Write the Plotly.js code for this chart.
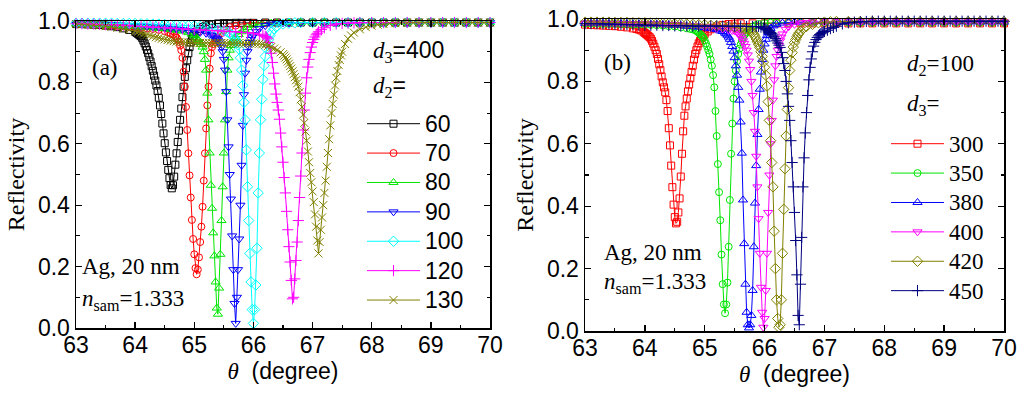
<!DOCTYPE html>
<html><head><meta charset="utf-8">
<script src="https://cdn.plot.ly/plotly-3.0.1.min.js"></script>
<style>html,body{margin:0;padding:0;background:#fff}</style>
</head><body><div id="chart" style="width:1024px;height:394px"></div>
<script>
// ---------- Panel (a): d3 = 400, varying d2 ----------  [theta (deg), reflectivity]
const A60 = [[63.0,.99],[63.1,.99],[63.2,.989],[63.3,.988],[63.4,.987],[63.5,.985],[63.6,.983],[63.7,.98],[63.8,.976],[63.9,.971],[64.0,.965],[64.02,.962],[64.04,.959],[64.06,.956],[64.08,.953],[64.1,.95],[64.12,.944],[64.14,.936],[64.16,.927],[64.18,.917],[64.2,.906],[64.22,.895],[64.24,.882],[64.26,.868],[64.28,.853],[64.3,.838],[64.32,.822],[64.34,.806],[64.36,.79],[64.38,.772],[64.4,.75],[64.42,.725],[64.44,.697],[64.46,.666],[64.48,.634],[64.5,.602],[64.52,.572],[64.54,.544],[64.56,.515],[64.58,.488],[64.6,.466],[64.62,.455],[64.64,.465],[64.66,.493],[64.68,.532],[64.7,.569],[64.72,.606],[64.74,.643],[64.76,.678],[64.78,.715],[64.8,.752],[64.82,.786],[64.84,.818],[64.86,.846],[64.88,.872],[64.9,.895],[64.92,.915],[64.94,.93],[64.96,.942],[64.98,.951],[65.0,.958],[65.05,.966],[65.1,.974],[65.15,.98],[65.2,.985],[65.25,.988],[65.3,.99],[65.4,.992],[65.5,.993],[65.6,.993],[65.7,.994],[65.8,.994],[65.9,.994],[66.0,.994],[66.2,.995],[66.4,.995],[66.6,.995],[66.8,.995],[67.0,.995],[67.2,.995],[67.4,.995],[67.6,.995],[67.8,.995],[68.0,.995],[68.2,.995],[68.4,.995],[68.6,.995],[68.8,.995],[69.0,.995],[69.2,.995],[69.4,.995],[69.6,.995],[69.8,.995],[70.0,.995]];
const A70 = [[63.0,.99],[63.1,.99],[63.2,.989],[63.3,.989],[63.4,.988],[63.5,.987],[63.6,.986],[63.7,.984],[63.8,.983],[63.9,.981],[64.0,.98],[64.1,.978],[64.2,.976],[64.3,.974],[64.4,.971],[64.5,.967],[64.56,.963],[64.6,.96],[64.64,.956],[64.68,.95],[64.7,.946],[64.72,.94],[64.74,.932],[64.76,.92],[64.78,.905],[64.8,.88],[64.82,.835],[64.84,.786],[64.86,.72],[64.88,.645],[64.9,.569],[64.92,.497],[64.94,.425],[64.96,.352],[64.98,.29],[65.0,.24],[65.02,.195],[65.04,.175],[65.06,.19],[65.08,.23],[65.1,.28],[65.12,.33],[65.14,.395],[65.16,.48],[65.18,.569],[65.2,.65],[65.22,.725],[65.24,.786],[65.26,.845],[65.28,.895],[65.3,.915],[65.32,.925],[65.34,.932],[65.36,.938],[65.38,.944],[65.4,.95],[65.45,.96],[65.5,.97],[65.6,.98],[65.7,.985],[65.8,.99],[65.9,.992],[66.0,.993],[66.2,.994],[66.4,.994],[66.6,.995],[66.8,.995],[67.0,.995],[67.2,.995],[67.4,.995],[67.6,.995],[67.8,.995],[68.0,.995],[68.2,.995],[68.4,.995],[68.6,.995],[68.8,.995],[69.0,.995],[69.2,.995],[69.4,.995],[69.6,.995],[69.8,.995],[70.0,.995]];
const A80 = [[63.0,.99],[63.1,.99],[63.2,.99],[63.3,.989],[63.4,.988],[63.5,.987],[63.6,.986],[63.7,.985],[63.8,.984],[63.9,.983],[64.0,.982],[64.1,.98],[64.2,.979],[64.3,.978],[64.4,.976],[64.5,.975],[64.6,.972],[64.7,.97],[64.8,.967],[64.9,.962],[64.96,.957],[65.0,.952],[65.04,.945],[65.06,.94],[65.08,.935],[65.1,.93],[65.12,.924],[65.14,.915],[65.16,.9],[65.18,.875],[65.2,.84],[65.22,.765],[65.24,.678],[65.26,.57],[65.28,.465],[65.3,.39],[65.32,.31],[65.34,.235],[65.36,.15],[65.38,.065],[65.4,.045],[65.42,.13],[65.44,.24],[65.46,.35],[65.48,.46],[65.5,.57],[65.52,.678],[65.54,.77],[65.56,.84],[65.58,.88],[65.6,.905],[65.62,.92],[65.64,.93],[65.66,.936],[65.68,.942],[65.7,.947],[65.75,.956],[65.8,.965],[65.85,.973],[65.9,.979],[66.0,.986],[66.1,.99],[66.2,.992],[66.3,.993],[66.4,.994],[66.6,.995],[66.8,.995],[67.0,.995],[67.2,.995],[67.4,.995],[67.6,.995],[67.8,.995],[68.0,.995],[68.2,.995],[68.4,.995],[68.6,.995],[68.8,.995],[69.0,.995],[69.2,.995],[69.4,.995],[69.6,.995],[69.8,.995],[70.0,.995]];
const A90 = [[63.0,.99],[63.1,.99],[63.2,.99],[63.3,.99],[63.4,.989],[63.5,.988],[63.6,.988],[63.7,.987],[63.8,.986],[63.9,.985],[64.0,.985],[64.1,.984],[64.2,.982],[64.3,.981],[64.4,.98],[64.5,.978],[64.6,.976],[64.7,.974],[64.8,.972],[64.9,.969],[65.0,.966],[65.1,.963],[65.2,.96],[65.26,.956],[65.3,.953],[65.34,.948],[65.36,.945],[65.38,.942],[65.4,.938],[65.42,.932],[65.44,.925],[65.46,.915],[65.48,.9],[65.5,.875],[65.52,.84],[65.54,.77],[65.56,.678],[65.58,.59],[65.6,.5],[65.62,.42],[65.64,.3],[65.66,.19],[65.68,.08],[65.7,.015],[65.72,.1],[65.74,.19],[65.76,.29],[65.78,.4],[65.8,.53],[65.82,.66],[65.84,.76],[65.86,.83],[65.88,.872],[65.9,.9],[65.92,.917],[65.94,.93],[65.96,.94],[65.98,.948],[66.0,.955],[66.05,.965],[66.1,.975],[66.2,.985],[66.3,.99],[66.4,.993],[66.5,.994],[66.6,.994],[66.8,.995],[67.0,.995],[67.2,.995],[67.4,.995],[67.6,.995],[67.8,.995],[68.0,.995],[68.2,.995],[68.4,.995],[68.6,.995],[68.8,.995],[69.0,.995],[69.2,.995],[69.4,.995],[69.6,.995],[69.8,.995],[70.0,.995]];
const A100 = [[63.0,.993],[63.1,.993],[63.2,.993],[63.3,.993],[63.4,.993],[63.5,.993],[63.6,.993],[63.7,.992],[63.8,.992],[63.9,.992],[64.0,.992],[64.1,.991],[64.2,.991],[64.3,.99],[64.4,.99],[64.5,.989],[64.6,.988],[64.7,.987],[64.8,.986],[64.9,.985],[65.0,.984],[65.1,.982],[65.2,.979],[65.3,.976],[65.4,.972],[65.5,.968],[65.56,.964],[65.6,.96],[65.64,.954],[65.68,.944],[65.7,.938],[65.72,.93],[65.74,.922],[65.76,.908],[65.78,.88],[65.8,.84],[65.82,.79],[65.84,.735],[65.86,.678],[65.88,.58],[65.9,.46],[65.92,.35],[65.94,.243],[65.96,.15],[65.98,.06],[66.0,.015],[66.02,.06],[66.04,.14],[66.06,.26],[66.08,.44],[66.1,.57],[66.12,.678],[66.14,.745],[66.16,.81],[66.18,.855],[66.2,.885],[66.22,.91],[66.24,.925],[66.26,.94],[66.28,.953],[66.3,.963],[66.35,.975],[66.4,.983],[66.5,.99],[66.6,.993],[66.7,.994],[66.8,.995],[67.0,.995],[67.2,.995],[67.4,.995],[67.6,.995],[67.8,.995],[68.0,.995],[68.2,.995],[68.4,.995],[68.6,.995],[68.8,.995],[69.0,.995],[69.2,.995],[69.4,.995],[69.6,.995],[69.8,.995],[70.0,.995]];
const A120 = [[63.0,.991],[63.1,.991],[63.2,.99],[63.3,.99],[63.4,.989],[63.5,.988],[63.6,.988],[63.7,.987],[63.8,.986],[63.9,.985],[64.0,.983],[64.1,.982],[64.2,.981],[64.3,.98],[64.4,.979],[64.5,.978],[64.6,.977],[64.7,.976],[64.8,.974],[64.9,.973],[65.0,.972],[65.1,.971],[65.2,.97],[65.3,.969],[65.4,.968],[65.5,.967],[65.6,.966],[65.7,.965],[65.8,.963],[65.9,.962],[66.0,.96],[66.1,.957],[66.16,.953],[66.2,.95],[66.22,.947],[66.24,.942],[66.26,.93],[66.28,.915],[66.3,.895],[66.32,.865],[66.34,.83],[66.36,.795],[66.38,.762],[66.4,.735],[66.42,.71],[66.44,.68],[66.46,.635],[66.48,.59],[66.5,.54],[66.52,.49],[66.54,.44],[66.56,.38],[66.58,.32],[66.6,.265],[66.62,.215],[66.64,.155],[66.66,.095],[66.68,.1],[66.7,.16],[66.72,.22],[66.74,.28],[66.76,.35],[66.78,.425],[66.8,.495],[66.82,.57],[66.84,.645],[66.86,.71],[66.88,.765],[66.9,.815],[66.92,.85],[66.94,.875],[66.96,.897],[66.98,.915],[67.0,.93],[67.02,.94],[67.04,.948],[67.06,.955],[67.08,.96],[67.1,.965],[67.15,.972],[67.2,.978],[67.3,.986],[67.4,.99],[67.5,.992],[67.6,.993],[67.7,.994],[67.8,.995],[68.0,.995],[68.2,.995],[68.4,.995],[68.6,.995],[68.8,.995],[69.0,.995],[69.2,.995],[69.4,.995],[69.6,.995],[69.8,.995],[70.0,.995]];
const A130 = [[63.0,.99],[63.1,.989],[63.2,.988],[63.3,.987],[63.4,.985],[63.5,.983],[63.6,.981],[63.7,.978],[63.8,.975],[63.9,.971],[64.0,.967],[64.05,.965],[64.1,.962],[64.15,.959],[64.2,.956],[64.25,.953],[64.3,.95],[64.35,.947],[64.4,.945],[64.45,.942],[64.5,.94],[64.55,.938],[64.6,.936],[64.65,.934],[64.7,.933],[64.75,.932],[64.8,.931],[64.85,.93],[64.9,.93],[64.95,.929],[65.0,.929],[65.05,.929],[65.1,.929],[65.15,.928],[65.2,.928],[65.25,.928],[65.3,.928],[65.35,.928],[65.4,.928],[65.45,.928],[65.5,.928],[65.55,.927],[65.6,.927],[65.65,.927],[65.7,.927],[65.75,.927],[65.8,.927],[65.85,.927],[65.9,.927],[65.95,.927],[66.0,.927],[66.05,.926],[66.1,.926],[66.15,.924],[66.2,.922],[66.25,.919],[66.3,.915],[66.35,.91],[66.4,.905],[66.46,.898],[66.5,.892],[66.52,.887],[66.54,.881],[66.56,.875],[66.58,.868],[66.6,.861],[66.62,.853],[66.64,.845],[66.66,.836],[66.68,.827],[66.7,.817],[66.72,.807],[66.74,.797],[66.76,.786],[66.78,.768],[66.8,.745],[66.82,.72],[66.84,.695],[66.86,.668],[66.88,.64],[66.9,.61],[66.92,.575],[66.94,.54],[66.96,.505],[66.98,.475],[67.0,.445],[67.02,.41],[67.04,.37],[67.06,.33],[67.08,.285],[67.1,.243],[67.12,.28],[67.14,.32],[67.16,.36],[67.18,.4],[67.2,.44],[67.22,.48],[67.24,.525],[67.26,.57],[67.28,.615],[67.3,.66],[67.32,.7],[67.34,.73],[67.36,.76],[67.38,.79],[67.4,.815],[67.42,.837],[67.44,.857],[67.46,.873],[67.48,.888],[67.5,.9],[67.55,.925],[67.6,.942],[67.65,.953],[67.7,.962],[67.8,.973],[67.9,.98],[68.0,.985],[68.1,.988],[68.2,.99],[68.3,.992],[68.4,.993],[68.5,.994],[68.6,.994],[68.7,.995],[68.8,.995],[68.9,.995],[69.0,.995],[69.1,.995],[69.2,.995],[69.3,.995],[69.4,.995],[69.5,.995],[69.6,.995],[69.7,.995],[69.8,.995],[69.9,.995],[70.0,.995]];

// ---------- Panel (b): d2 = 100, varying d3 ----------
const B300 = [[63.0,.982],[63.1,.981],[63.2,.98],[63.3,.979],[63.4,.978],[63.5,.977],[63.6,.975],[63.7,.973],[63.8,.97],[63.86,.968],[63.9,.966],[63.94,.963],[63.98,.958],[64.0,.955],[64.02,.952],[64.04,.949],[64.06,.945],[64.08,.942],[64.1,.937],[64.12,.93],[64.14,.921],[64.16,.911],[64.18,.9],[64.2,.888],[64.22,.872],[64.24,.855],[64.26,.836],[64.28,.816],[64.3,.797],[64.32,.781],[64.34,.765],[64.36,.74],[64.38,.705],[64.4,.65],[64.42,.595],[64.44,.53],[64.46,.461],[64.48,.405],[64.5,.365],[64.52,.345],[64.54,.35],[64.56,.38],[64.58,.425],[64.6,.495],[64.62,.568],[64.64,.64],[64.66,.69],[64.68,.72],[64.7,.745],[64.72,.768],[64.74,.79],[64.76,.81],[64.78,.83],[64.8,.85],[64.82,.87],[64.84,.888],[64.86,.9],[64.88,.912],[64.9,.922],[64.92,.93],[64.94,.938],[64.96,.943],[64.98,.948],[65.0,.952],[65.05,.96],[65.1,.967],[65.15,.972],[65.2,.976],[65.3,.981],[65.4,.984],[65.5,.985],[65.6,.986],[65.8,.986],[66.0,.986],[66.2,.986],[66.4,.986],[66.6,.986],[66.8,.986],[67.0,.986],[67.2,.986],[67.4,.986],[67.6,.986],[67.8,.986],[68.0,.986],[68.2,.986],[68.4,.986],[68.6,.986],[68.8,.986],[69.0,.986],[69.2,.986],[69.4,.986],[69.6,.986],[69.8,.986],[70.0,.986]];
const B350 = [[63.0,.985],[63.1,.985],[63.2,.985],[63.3,.984],[63.4,.984],[63.5,.984],[63.6,.983],[63.7,.983],[63.8,.982],[63.9,.982],[64.0,.982],[64.1,.981],[64.2,.98],[64.3,.979],[64.4,.977],[64.5,.976],[64.6,.973],[64.7,.97],[64.76,.968],[64.8,.967],[64.84,.964],[64.86,.962],[64.88,.959],[64.9,.956],[64.92,.952],[64.94,.948],[64.96,.944],[64.98,.94],[65.0,.932],[65.02,.922],[65.04,.912],[65.06,.9],[65.08,.888],[65.1,.87],[65.12,.85],[65.14,.82],[65.16,.781],[65.18,.705],[65.2,.625],[65.22,.535],[65.24,.445],[65.26,.355],[65.28,.245],[65.3,.15],[65.32,.085],[65.34,.057],[65.36,.085],[65.38,.155],[65.4,.27],[65.42,.42],[65.44,.568],[65.46,.665],[65.48,.745],[65.5,.8],[65.52,.835],[65.54,.865],[65.56,.888],[65.58,.905],[65.6,.918],[65.62,.93],[65.64,.94],[65.66,.948],[65.68,.953],[65.7,.958],[65.75,.968],[65.8,.975],[65.85,.98],[65.9,.984],[66.0,.987],[66.1,.988],[66.2,.988],[66.4,.988],[66.6,.988],[66.8,.988],[67.0,.988],[67.2,.988],[67.4,.988],[67.6,.988],[67.8,.988],[68.0,.988],[68.2,.988],[68.4,.988],[68.6,.988],[68.8,.988],[69.0,.988],[69.2,.988],[69.4,.988],[69.6,.988],[69.8,.988],[70.0,.988]];
const B380 = [[63.0,.986],[63.1,.986],[63.2,.986],[63.3,.986],[63.4,.985],[63.5,.985],[63.6,.985],[63.7,.985],[63.8,.984],[63.9,.984],[64.0,.984],[64.1,.983],[64.2,.983],[64.3,.982],[64.4,.981],[64.5,.98],[64.6,.979],[64.7,.977],[64.8,.976],[64.9,.974],[65.0,.972],[65.1,.969],[65.2,.966],[65.26,.962],[65.3,.96],[65.34,.955],[65.36,.952],[65.38,.948],[65.4,.942],[65.42,.935],[65.44,.925],[65.46,.912],[65.48,.897],[65.5,.876],[65.52,.85],[65.54,.82],[65.56,.781],[65.58,.74],[65.6,.67],[65.62,.57],[65.64,.42],[65.66,.28],[65.68,.15],[65.7,.06],[65.72,.02],[65.74,.01],[65.76,.02],[65.78,.05],[65.8,.13],[65.82,.27],[65.84,.41],[65.86,.53],[65.88,.63],[65.9,.71],[65.92,.775],[65.94,.83],[65.96,.87],[65.98,.9],[66.0,.92],[66.02,.935],[66.04,.947],[66.06,.957],[66.08,.964],[66.1,.97],[66.15,.978],[66.2,.983],[66.3,.987],[66.4,.989],[66.5,.99],[66.6,.99],[66.8,.99],[67.0,.99],[67.2,.99],[67.4,.99],[67.6,.99],[67.8,.99],[68.0,.99],[68.2,.99],[68.4,.99],[68.6,.99],[68.8,.99],[69.0,.99],[69.2,.99],[69.4,.99],[69.6,.99],[69.8,.99],[70.0,.99]];
const B400 = [[63.0,.987],[63.1,.987],[63.2,.987],[63.3,.987],[63.4,.986],[63.5,.986],[63.6,.986],[63.7,.985],[63.8,.985],[63.9,.985],[64.0,.985],[64.1,.984],[64.2,.984],[64.3,.983],[64.4,.983],[64.5,.982],[64.6,.981],[64.7,.979],[64.8,.978],[64.9,.977],[65.0,.975],[65.1,.973],[65.2,.97],[65.3,.968],[65.4,.965],[65.46,.963],[65.5,.962],[65.54,.957],[65.56,.954],[65.58,.95],[65.6,.945],[65.62,.938],[65.64,.93],[65.66,.922],[65.68,.912],[65.7,.9],[65.72,.885],[65.74,.865],[65.76,.838],[65.78,.8],[65.8,.755],[65.82,.7],[65.84,.64],[65.86,.56],[65.88,.462],[65.9,.36],[65.92,.249],[65.94,.14],[65.96,.06],[65.98,.012],[66.0,.04],[66.02,.13],[66.04,.249],[66.06,.38],[66.08,.5],[66.1,.6],[66.12,.675],[66.14,.74],[66.16,.805],[66.18,.85],[66.2,.88],[66.22,.9],[66.24,.915],[66.26,.93],[66.28,.942],[66.3,.952],[66.35,.967],[66.4,.975],[66.5,.983],[66.6,.987],[66.7,.989],[66.8,.99],[67.0,.991],[67.2,.991],[67.4,.991],[67.6,.991],[67.8,.991],[68.0,.991],[68.2,.991],[68.4,.991],[68.6,.991],[68.8,.991],[69.0,.991],[69.2,.991],[69.4,.991],[69.6,.991],[69.8,.991],[70.0,.991]];
const B420 = [[63.0,.99],[63.1,.99],[63.2,.99],[63.3,.99],[63.4,.99],[63.5,.989],[63.6,.989],[63.7,.989],[63.8,.988],[63.9,.988],[64.0,.988],[64.1,.987],[64.2,.987],[64.3,.986],[64.4,.986],[64.5,.985],[64.6,.985],[64.7,.984],[64.8,.983],[64.9,.982],[65.0,.982],[65.1,.98],[65.2,.979],[65.3,.977],[65.4,.976],[65.5,.974],[65.6,.971],[65.66,.969],[65.7,.968],[65.74,.966],[65.76,.964],[65.78,.961],[65.8,.957],[65.82,.951],[65.84,.944],[65.86,.936],[65.88,.927],[65.9,.918],[65.92,.909],[65.94,.895],[65.96,.88],[65.98,.862],[66.0,.845],[66.02,.82],[66.04,.785],[66.06,.735],[66.08,.675],[66.1,.61],[66.12,.54],[66.14,.462],[66.16,.32],[66.18,.2],[66.2,.1],[66.22,.04],[66.24,.012],[66.26,.02],[66.28,.1],[66.3,.249],[66.32,.39],[66.34,.52],[66.36,.625],[66.38,.71],[66.4,.78],[66.42,.835],[66.44,.868],[66.46,.892],[66.48,.91],[66.5,.924],[66.52,.934],[66.54,.943],[66.56,.95],[66.58,.956],[66.6,.961],[66.65,.97],[66.7,.976],[66.8,.983],[66.9,.988],[67.0,.99],[67.1,.991],[67.2,.992],[67.4,.992],[67.6,.992],[67.8,.992],[68.0,.992],[68.2,.992],[68.4,.992],[68.6,.992],[68.8,.992],[69.0,.992],[69.2,.992],[69.4,.992],[69.6,.992],[69.8,.992],[70.0,.992]];
const B450 = [[63.0,.985],[63.1,.985],[63.2,.985],[63.3,.984],[63.4,.984],[63.5,.983],[63.6,.983],[63.7,.982],[63.8,.982],[63.9,.981],[64.0,.98],[64.1,.98],[64.2,.98],[64.3,.979],[64.4,.979],[64.5,.978],[64.6,.978],[64.7,.978],[64.8,.977],[64.9,.977],[65.0,.977],[65.1,.977],[65.2,.977],[65.3,.977],[65.4,.977],[65.5,.977],[65.6,.977],[65.7,.976],[65.8,.976],[65.86,.976],[65.9,.976],[65.94,.974],[65.98,.971],[66.0,.969],[66.02,.967],[66.04,.965],[66.06,.962],[66.08,.959],[66.1,.957],[66.12,.954],[66.14,.949],[66.16,.943],[66.18,.937],[66.2,.93],[66.22,.923],[66.24,.916],[66.26,.909],[66.28,.893],[66.3,.876],[66.32,.857],[66.34,.835],[66.36,.8],[66.38,.76],[66.4,.72],[66.42,.675],[66.44,.61],[66.46,.54],[66.48,.462],[66.5,.38],[66.52,.29],[66.54,.18],[66.56,.05],[66.58,.02],[66.6,.15],[66.62,.3],[66.64,.462],[66.66,.555],[66.68,.635],[66.7,.7],[66.72,.755],[66.74,.805],[66.76,.845],[66.78,.872],[66.8,.895],[66.82,.913],[66.84,.925],[66.86,.934],[66.88,.941],[66.9,.946],[66.92,.95],[66.94,.953],[66.96,.956],[66.98,.958],[67.0,.96],[67.05,.964],[67.1,.969],[67.15,.973],[67.2,.977],[67.3,.984],[67.4,.988],[67.5,.99],[67.6,.991],[67.7,.992],[67.8,.993],[67.9,.993],[68.0,.993],[68.1,.993],[68.2,.993],[68.3,.993],[68.4,.993],[68.5,.993],[68.6,.993],[68.7,.993],[68.8,.993],[68.9,.993],[69.0,.993],[69.1,.993],[69.2,.993],[69.3,.993],[69.4,.993],[69.5,.993],[69.6,.993],[69.7,.993],[69.8,.993],[69.9,.993],[70.0,.993]];

const namesA = ['60','70','80','90','100','120','130'];
const namesB = ['300','350','380','400','420','450'];
const xTicks = [63,64,65,66,67,68,69,70];
const yTicks = [0,0.2,0.4,0.6,0.8,1.0];

// ---------- styles ----------
const stylesA = [
  {c:'#000000', s:'square-open', z:7},
  {c:'#ff0000', s:'circle-open', z:7},
  {c:'#00e600', s:'triangle-up-open', z:8},
  {c:'#0000ff', s:'triangle-down-open', z:8},
  {c:'#00ffff', s:'diamond-open', z:8},
  {c:'#ff00ff', s:'cross-thin-open', z:8},
  {c:'#808000', s:'x-thin-open', z:8}
];
const stylesB = [
  {c:'#ff0000', s:'square-open', z:7},
  {c:'#00e600', s:'circle-open', z:7},
  {c:'#0000ff', s:'triangle-up-open', z:8},
  {c:'#ff00ff', s:'triangle-down-open', z:8},
  {c:'#808000', s:'diamond-open', z:8},
  {c:'#000080', s:'cross-thin-open', z:8}
];

function mk(d, name, st, xa, ya, lg) {
  return {
    type: 'scatter', mode: 'lines+markers',
    name: '<span style="font-size:23px">' + name + '</span>',
    x: d.map(p => p[0]), y: d.map(p => p[1]),
    xaxis: xa, yaxis: ya, legend: lg, cliponaxis: false,
    line: {color: st.c, width: 1},
    marker: {symbol: st.s, size: st.z, color: st.c, line: {color: st.c, width: 1}}
  };
}

const dataA = [A60, A70, A80, A90, A100, A120, A130];
const dataB = [B300, B350, B380, B400, B420, B450];
const traces = [];
dataA.forEach((d, i) => traces.push(mk(d, namesA[i], stylesA[i], 'x', 'y', 'legend')));
dataB.forEach((d, i) => traces.push(mk(d, namesB[i], stylesB[i], 'x2', 'y2', 'legend2')));

const SANS = 'Liberation Sans, Arial, sans-serif';
const SERIF = 'Liberation Serif, Times New Roman, serif';
const W = 1024, H = 394;

function xax(dom, anchor) {
  return {
    domain: dom, anchor: anchor, range: [63, 70],
    tickmode: 'array', tickvals: xTicks, ticktext: xTicks.map(String),
    ticks: 'inside', ticklen: 6, tickwidth: 1.3, tickcolor: '#000',
    minor: {tickmode: 'linear', tick0: 63.5, dtick: 1, ticks: 'inside', ticklen: 3.5, tickwidth: 1.1, tickcolor: '#000'},
    showline: true, linecolor: '#000', linewidth: 1.5, mirror: 'allticks',
    showgrid: false, zeroline: false, automargin: false, ticklabelstandoff: -4,
    tickfont: {family: SANS, size: 23, color: '#000'},
    title: {text: '<span style="font-family:Liberation Serif"><i>θ</i></span>  (degree)', font: {family: SANS, size: 23, color: '#000'}, standoff: 0}
  };
}
function yax(dom, anchor) {
  return {
    domain: dom, anchor: anchor, range: [0, 1],
    tickmode: 'array', tickvals: yTicks, ticktext: yTicks.map(v => v.toFixed(1)),
    ticks: 'inside', ticklen: 6, tickwidth: 1.3, tickcolor: '#000',
    minor: {tickmode: 'linear', tick0: 0.1, dtick: 0.2, ticks: 'inside', ticklen: 3.5, tickwidth: 1.1, tickcolor: '#000'},
    showline: true, linecolor: '#000', linewidth: 1.5, mirror: 'allticks',
    showgrid: false, zeroline: false, automargin: false,
    tickfont: {family: SANS, size: 23, color: '#000'},
    title: {text: 'Reflectivity', font: {family: SERIF, size: 24, color: '#000'}, standoff: 6}
  };
}

function ann(text, px, py, xanchor, font) {
  return {text: text, x: px / W, y: 1 - py / H, xref: 'paper', yref: 'paper',
    xanchor: xanchor, yanchor: 'middle', showarrow: false, font: font};
}
const fSerif = {family: SERIF, size: 23, color: '#000'};
const fSans = {family: SANS, size: 23, color: '#000'};
const dSpan = (n) => '<span style="font-family:Liberation Serif"><i>d</i><sub>' + n + '</sub></span>';

const layout = {
  width: W, height: H, margin: {l: 0, r: 0, t: 0, b: 0},
  paper_bgcolor: '#fff', plot_bgcolor: '#fff', showlegend: true,
  xaxis: xax([76 / W, 490 / W], 'y'),
  yaxis: yax([1 - 328 / H, 1 - 21 / H], 'x'),
  xaxis2: xax([585 / W, 1004 / W], 'y2'),
  yaxis2: yax([1 - 331 / H, 1 - 19 / H], 'x2'),
  legend: {x: 362 / W, y: 1 - 104 / H, xanchor: 'left', yanchor: 'top', bgcolor: 'rgba(0,0,0,0)',
    font: {family: SANS, size: 20.3, color: '#000'}, itemsizing: 'trace', itemwidth: 53, tracegroupgap: 0},
  legend2: {x: 886 / W, y: 1 - 124 / H, xanchor: 'left', yanchor: 'top', bgcolor: 'rgba(0,0,0,0)',
    font: {family: SERIF, size: 20.3, color: '#000'}, itemsizing: 'trace', itemwidth: 53, tracegroupgap: 0},
  annotations: [
    ann('(a)', 105, 67, 'center', fSerif),
    ann(dSpan(3) + '=400', 371, 52, 'left', fSans),
    ann(dSpan(2) + '=', 371, 86, 'left', fSans),
    ann('Ag, 20 nm', 80, 266, 'left', fSerif),
    ann('<i>n</i><sub>sam</sub>=1.333', 80, 300, 'left', fSerif),
    ann('(b)', 617, 62, 'center', fSerif),
    ann(dSpan(2) + '=100', 905, 65, 'left', fSerif),
    ann(dSpan(3) + '=', 905, 105, 'left', fSerif),
    ann('Ag, 20 nm', 602, 252, 'left', fSerif),
    ann('<i>n</i><sub>sam</sub>=1.333', 602, 283, 'left', fSerif)
  ]
};

Plotly.newPlot('chart', traces, layout, {displayModeBar: false, staticPlot: true});
</script>
</body></html>
